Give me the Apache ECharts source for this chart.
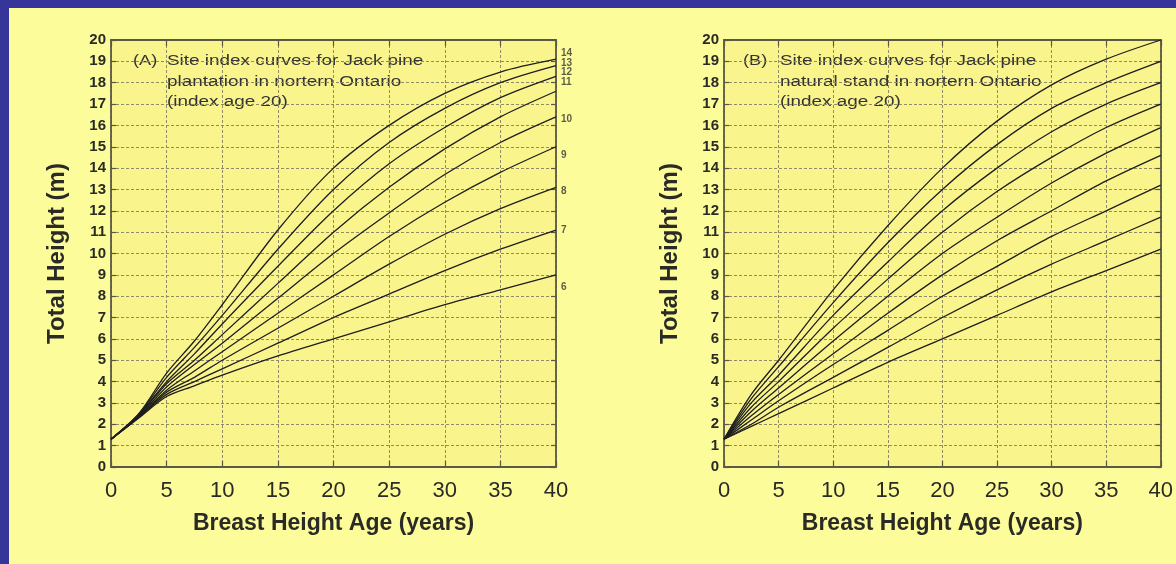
<!DOCTYPE html>
<html>
<head>
<meta charset="utf-8">
<script src="https://cdn.jsdelivr.net/npm/echarts@6/dist/echarts.min.js"></script>
<style>
html,body{margin:0;padding:0;background:#fdfc9a;}
#chart{width:1176px;height:564px;}
</style>
</head>
<body>
<div id="chart"></div>
<script>
// ---- data ----
const siteIndex = [6, 7, 8, 9, 10, 11, 12, 13, 14];

// (A) plantation: breast height age and total height per site index (rows = SI 6..14)
const ageA = [0, 2.5, 5, 7.5, 10, 15, 20, 25, 30, 35, 40];
const plantationHeights = [
  [1.3, 2.30, 3.30, 3.8, 4.3, 5.2, 6.0, 6.8, 7.6, 8.3, 9.0],
  [1.3, 2.32, 3.40, 4.0, 4.6, 5.8, 7.0, 8.1, 9.2, 10.2, 11.1],
  [1.3, 2.35, 3.50, 4.2, 5.0, 6.5, 8.0, 9.5, 10.9, 12.1, 13.1],
  [1.3, 2.38, 3.60, 4.5, 5.4, 7.2, 9.0, 10.8, 12.4, 13.8, 15.0],
  [1.3, 2.40, 3.75, 4.8, 5.8, 7.9, 10.0, 11.9, 13.7, 15.2, 16.4],
  [1.3, 2.42, 3.90, 5.0, 6.2, 8.6, 11.0, 13.1, 14.9, 16.4, 17.6],
  [1.3, 2.45, 4.00, 5.3, 6.7, 9.4, 12.0, 14.2, 15.9, 17.3, 18.3],
  [1.3, 2.48, 4.20, 5.6, 7.1, 10.2, 13.0, 15.2, 16.8, 18.0, 18.8],
  [1.3, 2.50, 4.40, 5.9, 7.6, 11.1, 14.0, 16.0, 17.5, 18.5, 19.1]
];
// heights where the site-index labels sit at the right edge of panel A
const plantationLabelY = [8.4, 11.1, 12.9, 14.6, 16.3, 18.0, 18.5, 18.9, 19.4];

// (B) natural stand
const ageB = [0, 2.5, 5, 10, 15, 20, 25, 30, 35, 40];
const naturalHeights = [
  [1.3, 1.9, 2.5, 3.7, 4.9, 6.0, 7.1, 8.2, 9.2, 10.2],
  [1.3, 2.0, 2.8, 4.2, 5.6, 7.0, 8.3, 9.5, 10.6, 11.7],
  [1.3, 2.2, 3.1, 4.8, 6.4, 8.0, 9.4, 10.8, 12.0, 13.2],
  [1.3, 2.4, 3.4, 5.3, 7.2, 9.0, 10.6, 12.0, 13.4, 14.6],
  [1.3, 2.6, 3.7, 5.9, 8.0, 10.0, 11.7, 13.3, 14.7, 15.9],
  [1.3, 2.8, 4.0, 6.5, 8.8, 11.0, 12.9, 14.5, 15.9, 17.0],
  [1.3, 3.0, 4.3, 7.1, 9.6, 12.0, 14.0, 15.7, 17.0, 18.0],
  [1.3, 3.2, 4.7, 7.7, 10.5, 13.0, 15.1, 16.8, 18.0, 19.0],
  [1.3, 3.4, 5.0, 8.3, 11.3, 14.0, 16.2, 17.9, 19.1, 20.0]
];

const xTitle = 'Breast Height Age (years)';
const yTitle = 'Total Height (m)';
const noteA = ['(A)', 'Site index curves for Jack pine', 'plantation in nortern Ontario', '(index age 20)'];
const noteB = ['(B)', 'Site index curves for Jack pine', 'natural stand in nortern Ontario', '(index age 20)'];

// ---- styles ----
const FONT = 'Liberation Sans, Arial, sans-serif';
const INK = '#2a2a26';
const FRAME = '#5a5846';
const GRIDC = '#8f8b66';

function bottomX(gi) {
  return {
    gridIndex: gi, type: 'value', position: 'bottom', min: 0, max: 40, interval: 5,
    axisLine: {show: true, onZero: false, lineStyle: {color: FRAME, width: 1.8}},
    axisTick: {show: true, inside: true, length: 6, lineStyle: {color: FRAME, width: 1.2}},
    axisLabel: {show: true, fontSize: 22, color: INK, fontFamily: FONT, margin: 13, showMinLabel: true, showMaxLabel: true},
    splitLine: {show: true, lineStyle: {color: GRIDC, width: 1, type: [3, 2]}},
    name: xTitle, nameLocation: 'middle', nameGap: 45,
    nameTextStyle: {fontSize: 23, fontWeight: 'bold', color: INK, fontFamily: FONT}
  };
}
function topX(gi) {
  return {
    gridIndex: gi, type: 'value', position: 'top', min: 0, max: 40, interval: 5,
    axisLine: {show: true, onZero: false, lineStyle: {color: FRAME, width: 1.8}},
    axisTick: {show: true, inside: true, length: 6, lineStyle: {color: FRAME, width: 1.2}},
    axisLabel: {show: false}, splitLine: {show: false}
  };
}
function leftY(gi) {
  return {
    gridIndex: gi, type: 'value', position: 'left', min: 0, max: 20, interval: 1,
    axisLine: {show: true, onZero: false, lineStyle: {color: FRAME, width: 1.8}},
    axisTick: {show: true, inside: true, length: 5, lineStyle: {color: FRAME, width: 1.2}},
    axisLabel: {show: true, fontSize: 15, fontWeight: 'bold', color: INK, fontFamily: FONT, margin: 5, showMinLabel: true, showMaxLabel: true},
    splitLine: {show: true, lineStyle: {color: GRIDC, width: 1, type: [3, 2]}},
    name: yTitle, nameLocation: 'middle', nameGap: 42,
    nameTextStyle: {fontSize: 24, fontWeight: 'bold', color: INK, fontFamily: FONT}
  };
}
function rightY(gi) {
  return {
    gridIndex: gi, type: 'value', position: 'right', min: 0, max: 20, interval: 1,
    axisLine: {show: true, onZero: false, lineStyle: {color: FRAME, width: 1.8}},
    axisTick: {show: true, inside: true, length: 5, lineStyle: {color: FRAME, width: 1.2}},
    axisLabel: {show: false}, splitLine: {show: false}
  };
}
function curves(ages, rows, xi, yi) {
  return rows.map((r, i) => ({
    type: 'line', name: String(siteIndex[i]), xAxisIndex: xi, yAxisIndex: yi,
    data: ages.map((a, j) => [a, r[j]]),
    smooth: 0.3, symbol: 'none', silent: true, z: 4,
    lineStyle: {color: '#1e1e1e', width: 1.3}
  }));
}
function note(lines, x0, x1) {
  const ys = [61, 82, 102];
  const els = [{type: 'text', x: x0, y: ys[0], scaleX: 1.3,
    style: {text: lines[0], x: 0, y: 0, fill: '#333', font: '14px ' + FONT, textVerticalAlign: 'middle', verticalAlign: 'middle'}}];
  for (let k = 1; k < lines.length; k++) {
    els.push({type: 'text', x: x1, y: ys[k - 1], scaleX: 1.35,
      style: {text: lines[k], x: 0, y: 0, fill: '#333', font: '14px ' + FONT, textVerticalAlign: 'middle', verticalAlign: 'middle'}});
  }
  return els;
}

const chart = echarts.init(document.getElementById('chart'), null, {renderer: 'canvas'});
chart.setOption({
  backgroundColor: '#fdfc9a',
  animation: false,
  grid: [
    {left: 111, right: 620, top: 40, bottom: 97, show: true, backgroundColor: '#f9f48c', borderWidth: 0},
    {left: 724, right: 7, top: 40, bottom: 97, show: true, backgroundColor: '#f9f48c', borderWidth: 0}
  ],
  xAxis: [bottomX(0), topX(0), bottomX(1), topX(1)],
  yAxis: [leftY(0), rightY(0), leftY(1), rightY(1)],
  series: [
    ...curves(ageA, plantationHeights, 0, 0),
    ...curves(ageB, naturalHeights, 2, 2),
    {
      type: 'scatter', xAxisIndex: 0, yAxisIndex: 0, symbolSize: 0, silent: true, z: 5,
      data: plantationLabelY.map((y, i) => ({value: [40, y], name: String(siteIndex[i])})),
      label: {show: true, position: 'right', distance: 5, formatter: '{b}', fontSize: 10, fontWeight: 'bold', color: '#333', fontFamily: FONT}
    }
  ],
  graphic: [
    {type: 'rect', left: 0, top: 0, z: 100, shape: {width: 1176, height: 8}, style: {fill: '#36359a'}},
    {type: 'rect', left: 0, top: 0, z: 100, shape: {width: 9, height: 564}, style: {fill: '#36359a'}},
    ...note(noteA, 133, 167),
    ...note(noteB, 743, 780)
  ]
});
</script>
</body>
</html>
